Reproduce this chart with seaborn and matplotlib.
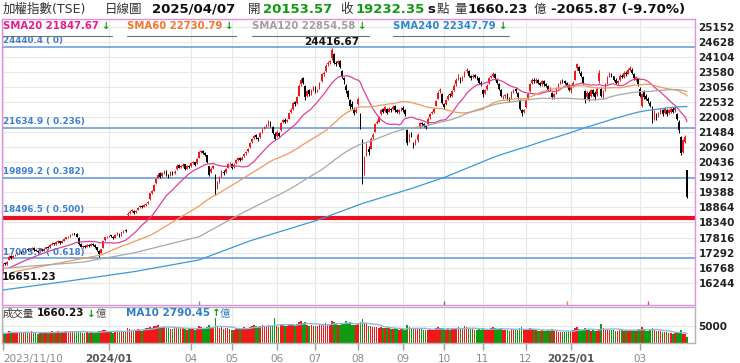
import numpy as np
import pandas as pd
import matplotlib
matplotlib.use("Agg")
import matplotlib.pyplot as plt
import seaborn as sns
from matplotlib.lines import Line2D

# ---------------- data ----------------
# one entry per trading day, 2023/11/10 .. 2025/04/07 (one line per month)
opens = [
    16780,16920,16900,17050,17180,17120,17200,17230,17280,17320,17290,17370,17420,17390,17430,
    17450,17390,17350,17330,17410,17360,17430,17490,17470,17570,17610,17590,17660,17690,17630,17710,17770,17830,17860,17910,17960,
    17940,17800,17580,17490,17530,17490,17570,17530,17590,17550,17490,17360,17280,17450,17720,17830,17860,17890,17850,17810,17920,17940,
    17900,18020,18070,18600,18680,18740,18730,18690,18780,18880,18920,18890,18950,
    19000,19150,19380,19450,19700,19900,20050,19950,20080,20120,19990,19970,20090,20060,20200,20330,20260,20310,20360,20210,20310,
    20300,20410,20430,20400,20600,20800,20830,20750,20680,20300,20100,20250,20000,19580,19750,19950,20100,20080,20250,20400,
    20380,20280,20400,20520,20590,20530,20650,20740,20810,20950,21150,21280,21380,21290,21300,21480,21620,21670,21720,21830,21650,21420,
    21350,21450,21550,21850,21920,21870,21950,22200,22280,22520,22480,22750,23150,23350,23100,22750,22950,22820,22980,
    23050,22920,23000,23250,23520,23600,23850,23920,24050,24200,23880,23900,23950,23600,23350,23100,22900,22600,22450,22300,22200,
    22450,22100,21200,20100,20700,20900,20900,21300,21500,21800,21850,22100,22280,22220,22300,22200,22280,22300,22380,22260,22180,22280,
    22320,22250,21550,21200,21450,21100,21100,21200,21650,21800,21750,21680,21750,22000,22150,22200,22400,22650,22900,22800,
    22450,22450,22650,22800,22750,22950,23150,23350,23350,23300,23450,23600,23600,23420,23400,23480,23380,23350,23200,
    22950,22850,23000,23200,23400,23450,23520,23300,23150,22950,22700,22750,22800,22650,22650,22880,23000,22850,22600,22250,22200,
    22350,22650,22900,23200,23300,23250,23300,23180,23150,23250,23150,23080,22980,22850,22700,22850,23050,23180,23270,23250,23180,23100,
    22950,23100,23300,23700,23750,23550,23400,22900,22700,22850,22750,22950,22850,22800,23250,
    23000,22700,22950,23200,23450,23500,23420,23300,23200,23300,23450,23400,23550,23520,23650,23650,23500,23300,23350,
    23000,22400,22900,22750,22650,22500,22350,21950,22100,22050,22150,22250,22150,22250,22150,22200,22300,22250,22100,21850,21300,
    20800,21150,20153.57,
]
highs = [
    16930,16960,16990,17200,17200,17210,17250,17300,17350,17360,17380,17450,17450,17460,17480,
    17470,17420,17380,17420,17430,17450,17500,17510,17580,17650,17640,17680,17720,17710,17730,17790,17850,17880,17930,17980,17990,
    17970,17820,17610,17560,17560,17590,17600,17620,17610,17580,17500,17380,17430,17700,17850,17880,17910,17920,17870,17930,18000,17960,
    18020,18090,18100,18700,18770,18800,18760,18780,18890,18950,18950,18980,19010,
    19100,19380,19480,19680,19880,20060,20080,20100,20150,20150,20040,20120,20130,20150,20360,20380,20350,20400,20380,20330,20350,
    20450,20480,20460,20590,20820,20860,20860,20790,20700,20320,20260,20350,20020,19780,19950,20150,20150,20230,20420,20460,
    20400,20400,20550,20620,20620,20640,20760,20840,20940,21150,21290,21400,21420,21330,21480,21640,21700,21750,21900,21860,21680,21480,
    21550,21480,21850,21950,21960,21940,22200,22310,22540,22580,22750,23150,23380,23400,23120,22950,23000,22990,23080,
    23080,23000,23240,23550,23600,23850,23950,24000,24416.67,24250,23950,24000,23980,23650,23400,23150,22950,22650,22550,22350,22350,
    22700,22150,21250,20650,21100,21000,21300,21450,21800,21900,22050,22300,22320,22400,22330,22350,22320,22420,22420,22300,22300,22350,
    22400,22280,21600,21450,21500,21150,21250,21450,21850,21850,21800,21730,22000,22150,22220,22350,22600,22900,23020,22830,
    22500,22650,22800,22850,22950,23150,23350,23500,23400,23450,23600,23710,23650,23480,23500,23520,23430,23400,23250,
    23000,23000,23150,23400,23480,23580,23550,23350,23200,23000,22780,22820,22830,22700,22900,23000,23050,22880,22650,22300,22300,
    22650,22850,23200,23350,23350,23350,23320,23220,23300,23300,23200,23120,23050,22880,22850,23050,23200,23300,23320,23300,23220,23150,
    23100,23250,23650,23900,23800,23600,23450,22950,22900,22900,23000,23000,22900,23050,23650,
    23050,22950,23200,23450,23580,23550,23450,23350,23300,23500,23500,23600,23600,23700,23800,23700,23550,23450,23380,
    23050,22850,22950,22800,22700,22550,22380,22250,22150,22200,22330,22300,22350,22300,22300,22350,22350,22380,22150,21900,21350,
    21250,21400,20153.57,
]
lows = [
    16651.23,16850,16870,17030,17060,17090,17170,17200,17250,17250,17270,17340,17350,17360,17400,
    17360,17330,17290,17310,17330,17340,17400,17430,17450,17540,17550,17570,17630,17600,17610,17690,17750,17800,17840,17890,17900,
    17820,17570,17470,17450,17440,17470,17490,17510,17510,17460,17350,17140,17260,17440,17700,17800,17830,17830,17760,17790,17900,17850,
    17880,17990,18000,18560,18650,18700,18640,18660,18760,18850,18840,18870,18920,
    18980,19130,19330,19430,19680,19880,19880,19920,20030,19950,19880,19940,20000,20020,20180,20220,20230,20280,20180,20190,20250,
    20280,20370,20300,20380,20580,20750,20720,20660,20420,19950,20050,20200,19300,19500,19720,19930,20000,20050,20230,20360,
    20200,20250,20380,20490,20480,20510,20620,20700,20780,20930,21120,21250,21260,21180,21280,21460,21580,21640,21700,21650,21420,21200,
    21320,21300,21530,21800,21800,21830,21930,22150,22260,22400,22460,22730,23100,23150,22600,22700,22750,22790,22930,
    22860,22870,22980,23230,23450,23580,23800,23850,24000,23850,23780,23850,23700,23350,23150,22850,22650,22300,22300,22080,22150,
    22420,21600,19662,20000,20650,20700,20880,21250,21480,21750,21820,22080,22150,22180,22100,22170,22200,22270,22200,22150,22130,22220,
    22200,22050,21050,21150,21300,20930,21050,21150,21620,21700,21650,21600,21730,21950,22100,22150,22380,22630,22850,22450,
    22300,22420,22600,22700,22700,22930,23100,23300,23200,23250,23400,23550,23400,23300,23350,23350,23300,23150,23100,
    22720,22800,22950,23150,23350,23400,23300,23150,22950,22700,22620,22680,22600,22540,22620,22850,22850,22650,22250,22050,22150,
    22330,22620,22880,23150,23200,23200,23150,23080,23100,23100,23050,22900,22930,22650,22650,22820,23000,23150,23200,23150,23050,22900,
    22850,23050,23280,23650,23550,23400,23150,22500,22650,22550,22700,22750,22600,22750,23200,
    22700,22650,22900,23150,23400,23400,23250,23150,23150,23250,23350,23380,23450,23500,23600,23500,23300,23250,23100,
    22700,22350,22650,22600,22500,22350,21800,21900,21900,22000,22100,22050,22100,22050,22100,22150,22150,22200,21900,21450,20700,
    20750,21100,19200,
]
closes = [
    16900,16880,16950,17150,17100,17180,17220,17260,17310,17280,17350,17410,17380,17420,17440,
    17380,17360,17320,17400,17350,17420,17480,17460,17550,17600,17580,17650,17680,17620,17700,17760,17820,17850,17900,17950,17930,
    17850,17600,17500,17520,17480,17560,17520,17580,17540,17500,17380,17250,17400,17680,17820,17850,17880,17860,17800,17900,17950,17880,
    18000,18060,18030,18650,18720,18760,18680,18740,18860,18900,18880,18940,18980,
    19060,19350,19420,19650,19850,20000,19930,20050,20100,19980,19950,20080,20050,20100,20320,20250,20300,20350,20200,20300,20280,
    20400,20440,20350,20550,20780,20820,20760,20700,20450,20000,20200,20300,19550,19700,19900,20120,20050,20200,20380,20420,
    20250,20350,20500,20580,20520,20600,20720,20800,20900,21100,21250,21350,21300,21250,21450,21600,21650,21700,21850,21700,21450,21250,
    21500,21350,21800,21900,21850,21900,22150,22250,22500,22450,22700,23100,23300,23200,22700,22900,22800,22950,23030,
    22900,22950,23200,23500,23550,23800,23900,23950,24350,23900,23850,23950,23750,23400,23300,22950,22700,22400,22350,22150,22250,
    22650,21650,19850,20550,21050,20800,21250,21400,21750,21850,22000,22250,22200,22350,22150,22300,22250,22350,22250,22200,22250,22300,
    22250,22100,21100,21400,21350,21000,21150,21400,21800,21750,21700,21650,21950,22100,22180,22300,22550,22850,22950,22500,
    22350,22600,22750,22760,22900,23100,23300,23450,23250,23400,23550,23650,23450,23350,23450,23400,23350,23200,23150,
    22800,22950,23100,23350,23420,23500,23350,23200,23000,22750,22720,22780,22650,22600,22850,22950,22900,22700,22300,22150,22250,
    22600,22800,23150,23300,23250,23300,23200,23120,23250,23150,23100,22950,23000,22700,22800,23000,23150,23250,23250,23200,23100,22950,
    23050,23200,23600,23850,23600,23450,23200,22650,22850,22600,22950,22800,22700,23000,23550,
    22750,22900,23150,23400,23500,23450,23300,23200,23250,23450,23400,23550,23500,23650,23700,23550,23350,23400,23150,
    22750,22800,22700,22650,22550,22400,21900,22150,21950,22150,22300,22100,22300,22100,22250,22300,22200,22330,21950,21550,20750,
    21200,21298.22,19232.35,
]
volumes = [
    2900,2700,2800,3600,3300,3100,3000,2900,3200,2800,3000,3300,2900,3100,3400,
    3000,2800,2700,3100,2900,3000,3300,2800,3200,3500,3100,3000,3400,2900,3100,3300,3500,3200,3400,3600,3100,
    3300,3600,3200,2900,3000,3300,2900,3100,2800,3000,3200,3600,3400,3900,3700,3300,3200,3100,3000,3400,3600,3300,
    3500,3400,3300,4300,4100,3800,3500,3700,4000,3900,3600,3800,4200,
    4400,4600,4300,4800,5000,5200,4700,4500,4600,4200,4400,4100,4000,4300,4700,4500,4200,4400,4000,3900,4100,
    4000,4200,3800,4300,4800,4600,4300,4100,4500,5200,4300,4400,7100,4800,4400,4500,4000,4200,4300,4100,
    3800,3900,4200,4400,4100,4200,4500,4300,4400,4700,4900,5100,4800,4500,5000,5200,4900,4700,5200,5000,5300,7100,
    4900,4700,5500,5300,4800,4900,5300,5100,5600,5200,5500,6000,6500,5800,6200,5300,5000,5100,4900,
    5000,4800,5300,5600,5400,5700,5500,5600,6300,6000,5500,5300,5100,5400,5800,6500,5700,6000,5200,5100,5300,
    5500,6100,6900,5900,5600,5000,4900,4700,4600,4500,4400,4600,4300,4400,4200,4300,4100,4000,4200,4000,3900,4100,
    4000,3900,5200,4500,4200,4300,4000,4100,4400,4000,3800,3700,3900,4000,3800,3900,4200,4500,4300,4400,
    4100,3900,4200,3800,4000,4300,4400,4600,4100,4000,4800,4500,4200,4000,4100,3900,3800,4000,3900,
    4200,3800,3700,4000,4300,4500,4200,4000,4100,4400,3900,3700,3800,3600,4000,4100,3900,3800,4300,4500,3700,
    3800,3900,4200,4000,3700,3800,3600,3500,3700,3600,3500,3800,3600,4000,3700,3400,3300,3200,3100,3300,3200,3400,
    3600,3800,4400,4600,4100,3900,3800,4200,3700,3800,3600,3700,3500,3600,4000,
    5400,4300,4000,4100,3900,3800,3700,3600,3500,3900,3700,3600,3800,3500,3900,3700,3800,3600,4000,
    4100,4500,3900,3600,3500,3700,4300,4000,3600,3400,3500,3300,3200,3100,2900,2800,2700,2900,3000,2800,3900,
    2600,2500,1660.23,
]

sma20_early_idx = [3, 10]
sma20_early_val = [16760, 16990]
sma60_early_idx = [5, 48]
sma60_early_val = [16620, 17210]
sma120_early_idx = [0, 39, 64, 96]
sma120_early_val = [16745, 16960, 17280, 17845]
sma240_early_idx = [0, 32, 64, 96, 121, 154, 176, 200, 217]
sma240_early_val = [15990, 16300, 16627, 17035, 17700, 18420, 19000, 19520, 19930]

fib_levels = [24440.4, 21634.9, 19899.2, 18496.5, 17093.7]
fib_labels = ["24440.4 ( 0)", "21634.9 ( 0.236)", "19899.2 ( 0.382)", "18496.5 ( 0.500)", "17093.7 ( 0.618)"]

tick_idx = [0, 52, 92, 112, 134, 153, 174, 196, 216, 235, 256, 278, 312]
tick_lab = ["2023/11/10", "2024/01", "04", "05", "06", "07", "08", "09", "10", "11", "12", "2025/01", "03"]
y_ticks = [16244, 16768, 17292, 17816, 18340, 18864, 19388, 19912, 20436,
           20960, 21484, 22008, 22532, 23056, 23580, 24104, 24628, 25152]

sma_names = ["SMA20 21847.67", "SMA60 22730.79", "SMA120 22854.58", "SMA240 22347.79"]

# ---------------- style ----------------
sns.set_style("white")
plt.rcParams['font.family'] = ['DejaVu Sans', 'Noto Sans CJK TC']

RED = "#f01818"
BLACK = "#000000"
GREEN = "#109a10"
PINK_BORDER = "#e38ee3"
C20, C60, C120, C240 = "#e0409a", "#f29a5a", "#a8a8a8", "#3a9ad9"
T20, T60, T120, T240 = "#e0208c", "#f07830", "#a0a0a0", "#2a8ad0"
FIB_C, FIB_T = "#6e9fdc", "#3f7fd0"

W, H = 740, 363
fig = plt.figure(figsize=(W / 100, H / 100), dpi=100)
fig.patch.set_facecolor("white")


def fx(px):
    return px / W


def fy(py):
    return 1 - py / H


ax = fig.add_axes([fx(2), fy(305), (695 - 2) / W, (305 - 19) / H])
axv = fig.add_axes([fx(2), fy(343), (695 - 2) / W, (343 - 307) / H], sharex=ax)

n = min(len(opens), len(highs), len(lows), len(closes), len(volumes))
o = np.array(opens[:n], float)
h = np.array(highs[:n], float)
l = np.array(lows[:n], float)
c = np.array(closes[:n], float)
v = np.array(volumes[:n], float)
x = np.arange(n)
up = c >= o

# ---------------- main price panel ----------------
ax.set_xlim(-0.49, 338.9)
ax.set_ylim(15468, 25419)
ax.set_axisbelow(True)
ax.set_yticks(y_ticks)
ax.set_yticklabels([str(t) for t in y_ticks])
ax.yaxis.tick_right()
ax.tick_params(axis='y', length=0, pad=2.5, labelsize=7.5, labelcolor="#222222")
for lab in ax.get_yticklabels():
    lab.set_fontweight('bold')
ax.set_xticks(tick_idx)
ax.tick_params(axis='x', length=0, labelbottom=False)
ax.grid(True, color="#e8e8e8", lw=0.8)
for s in ax.spines.values():
    s.set_color(PINK_BORDER)
    s.set_linewidth(1.0)

# Fibonacci levels
for lev, lab in zip(fib_levels, fib_labels):
    if lev == 18496.5:
        ax.axhline(lev, color="#e81020", lw=3.0, zorder=1.5)
        ax.annotate(lab, xy=(0, lev), xytext=(0, 2.6), textcoords='offset points',
                    ha='left', va='bottom', fontsize=6.3, fontweight='bold', color=FIB_T, zorder=5)
    else:
        ax.axhline(lev, color=FIB_C, lw=1.2, zorder=1.5)
        ax.annotate(lab, xy=(0, lev), xytext=(0, 1.2), textcoords='offset points',
                    ha='left', va='bottom', fontsize=6.3, fontweight='bold', color=FIB_T, zorder=5)

# candles
cols = np.where(up, RED, BLACK)
ax.vlines(x, l, h, colors=cols, lw=0.7, zorder=2)
body = np.maximum(np.abs(c - o), 18)
ax.bar(x, body, bottom=np.minimum(o, c), width=0.8, color=cols, linewidth=0, zorder=2.1)

# moving averages
cs = pd.Series(c)
ma_specs = [
    (20, sma20_early_idx, sma20_early_val, C20),
    (60, sma60_early_idx, sma60_early_val, C60),
    (120, sma120_early_idx, sma120_early_val, C120),
    (240, sma240_early_idx, sma240_early_val, C240),
]
for win, eidx, eval_, col in ma_specs:
    ma = cs.rolling(win).mean()
    start = win - 1
    ex = list(eidx) + [start]
    ey = list(eval_) + [ma.iloc[start]]
    sns.lineplot(x=ex, y=ey, ax=ax, color=col, linewidth=0.9, legend=False, zorder=3)
    sns.lineplot(x=x[start:], y=ma.values[start:], ax=ax, color=col, linewidth=0.9,
                 legend=False, zorder=3)
ax.set_xlabel("")
ax.set_ylabel("")

# extreme value labels
imax = int(np.argmax(h))
ax.annotate(f"{h[imax]:.2f}", xy=(imax, h[imax]), xytext=(0, 0.3), textcoords='offset points',
            ha='center', va='bottom', fontsize=7.5, fontweight='bold', color="#111111", zorder=6)
imin = int(np.argmin(l))
ax.annotate(f"{l[imin]:.2f}", xy=(imin, l[imin]), xytext=(-0.5, -0.8), textcoords='offset points',
            ha='left', va='top', fontsize=7.5, fontweight='bold', color="#111111", zorder=6)

# small event marks at the bottom of the price panel
ax.vlines([96, 216, 276, 316], 15468, 15468 + 130,
          colors=["#6090c0", "#707070", "#f08030", "#e040a0"], lw=1.0, zorder=4)

# ---------------- volume panel ----------------
axv.set_ylim(0, 10400)
axv.set_axisbelow(True)
axv.bar(x, v, width=0.8, color=np.where(up, RED, GREEN), linewidth=0, zorder=2)
vma = pd.Series(v).rolling(10, min_periods=1).mean()
sns.lineplot(x=x, y=vma.values, ax=axv, color="#88bbe8", linewidth=1.0, legend=False, zorder=3)
axv.set_xlabel("")
axv.set_ylabel("")
axv.set_yticks([5000])
axv.set_yticklabels(["5000"])
axv.yaxis.tick_right()
axv.tick_params(axis='y', length=0, pad=2.5, labelsize=7.5, labelcolor="#222222")
for lab in axv.get_yticklabels():
    lab.set_fontweight('bold')
axv.set_xticks(tick_idx)
axv.set_xticklabels(tick_lab)
axv.tick_params(axis='x', length=5, width=1, color="#a0a0a0", pad=3, labelsize=7.5,
                labelcolor="#8a8a8a", bottom=True)
for i, lab in enumerate(axv.get_xticklabels()):
    if i == 0:
        lab.set_ha('left')
    if tick_lab[i] in ("2024/01", "2025/01"):
        lab.set_fontweight('bold')
        lab.set_color("#555555")
axv.grid(True, color="#e8e8e8", lw=0.8)
for s in axv.spines.values():
    s.set_color("#b4b4b4")
    s.set_linewidth(1.0)
axv.set_xlim(-0.49, 338.9)

# ---------------- header texts ----------------
hy = fy(9.5)
fig.text(fx(3), hy, "加權指數(TSE)", fontsize=9, color="#333333", va='center')
fig.text(fx(105), hy, "日線圖", fontsize=9, color="#333333", va='center')
fig.text(fx(152), hy, "2025/04/07", fontsize=9.5, fontweight='bold', color="#111111", va='center')
fig.text(fx(248), hy, "開", fontsize=9, color="#333333", va='center')
fig.text(fx(263), hy, "20153.57", fontsize=9.5, fontweight='bold', color=GREEN, va='center')
fig.text(fx(340), hy, "收", fontsize=9, color="#333333", va='center')
fig.text(fx(356), hy, "19232.35", fontsize=9.5, fontweight='bold', color=GREEN, va='center')
fig.text(fx(427), hy, "s", fontsize=9.5, fontweight='bold', color="#111111", va='center')
fig.text(fx(437), hy, "點", fontsize=9, color="#333333", va='center')
fig.text(fx(454), hy, "量", fontsize=9, color="#333333", va='center')
fig.text(fx(468), hy, "1660.23", fontsize=9.5, fontweight='bold', color="#111111", va='center')
fig.text(fx(534), hy, "億", fontsize=9, color="#333333", va='center')
fig.text(fx(551), hy, "-2065.87 (-9.70%)", fontsize=9.5, fontweight='bold', color="#111111", va='center')

# SMA legend row: each name followed by a green arrow, underlined
renderer = fig.canvas.get_renderer()
sy = fy(26)
sma_x0 = [3, 127, 252, 393]
sma_cols = [T20, T60, T120, T240]
for x0, txt, col in zip(sma_x0, sma_names, sma_cols):
    t = fig.text(fx(x0), sy, txt, fontsize=7.3, fontweight='bold', color=col, va='center')
    x1 = t.get_window_extent(renderer).x1
    a = fig.text((x1 + 2) / W, sy, "↓", fontsize=7.3, fontweight='bold', color=GREEN, va='center')
    x2 = a.get_window_extent(renderer).x1
    fig.add_artist(Line2D([fx(x0), (x2 + 3) / W], [fy(36), fy(36)], color="#707070", lw=0.8))

# volume legend row
vy = fy(313.5)
fig.text(fx(3), vy, "成交量", fontsize=7.5, color="#333333", va='center')
fig.text(fx(37), vy, "1660.23", fontsize=7.5, fontweight='bold', color="#111111", va='center')
fig.text(fx(87), vy, "↓", fontsize=7.5, fontweight='bold', color=GREEN, va='center')
fig.text(fx(96), vy, "億", fontsize=7.5, color="#555555", va='center')
fig.text(fx(126), vy, "MA10 2790.45", fontsize=7.5, fontweight='bold', color="#2f7fc0", va='center')
fig.text(fx(212), vy, "↑", fontsize=7.5, fontweight='bold', color=GREEN, va='center')
fig.text(fx(220), vy, "億", fontsize=7.5, color="#2f7fc0", va='center')

fig.savefig("out.png", dpi=100, facecolor="white")
